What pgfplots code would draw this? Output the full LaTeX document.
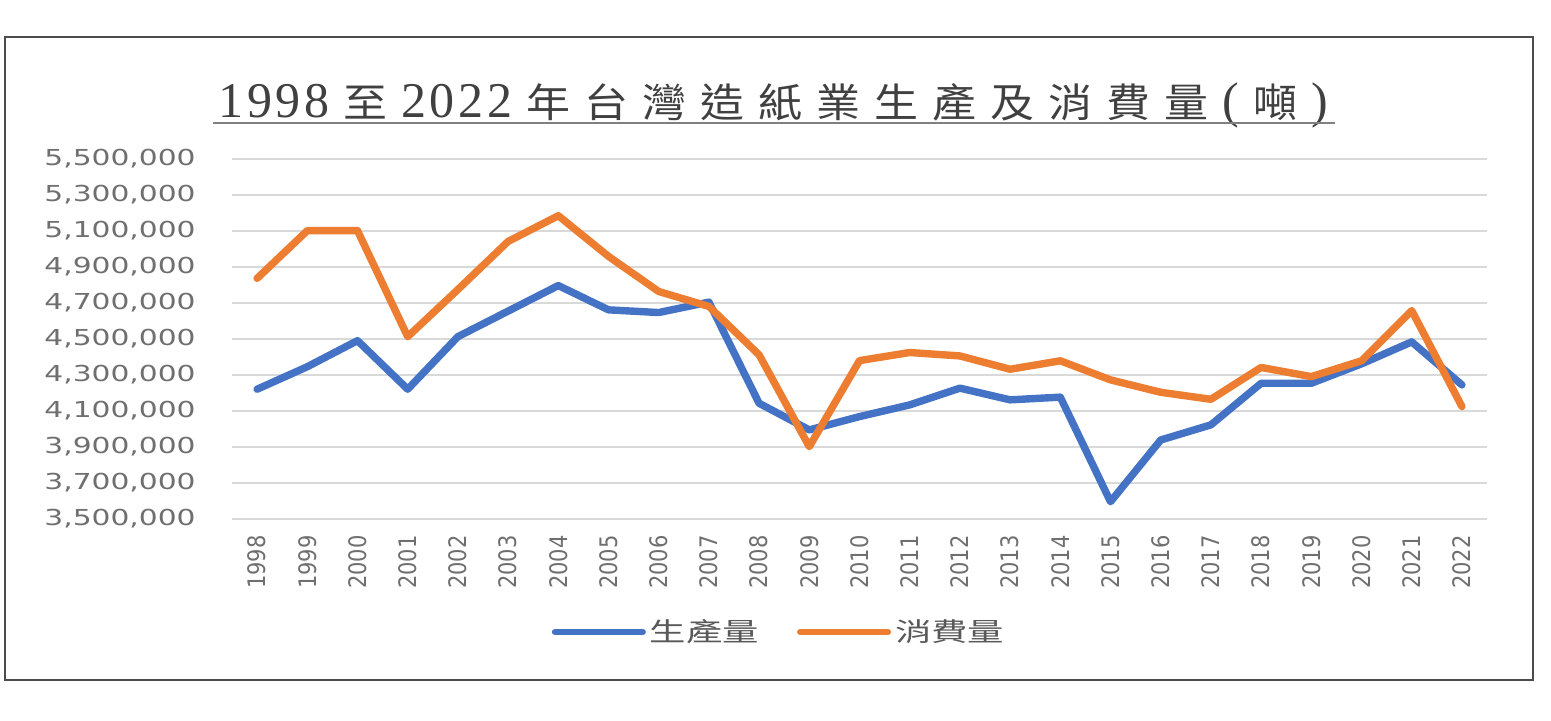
\documentclass[border=0pt]{standalone}
\usepackage{pgfplots}
\pgfplotsset{compat=1.18}
\usepackage{pgfplotstable}
\usepackage{graphicx}
\usepackage{fontspec}
\setmainfont{DejaVu Sans}
\newfontfamily\cjk{Noto Sans CJK TC}
\newfontfamily\tserif{Liberation Serif}
\definecolor{xblue}{HTML}{4472C4}
\definecolor{xorange}{HTML}{ED7D31}
\definecolor{xgrid}{HTML}{D9D9D9}
\definecolor{xlabel}{HTML}{6F6F6F}
\definecolor{xtitle}{HTML}{404040}

\pgfplotstableread{
year prod cons
1998 4221000 4837000
1999 4346000 5102000
2000 4491000 5102000
2001 4221000 4513000
2002 4513000 4775000
2003 4655000 5042000
2004 4797000 5185000
2005 4662000 4959000
2006 4647000 4764000
2007 4705000 4681000
2008 4143000 4412000
2009 3995000 3902000
2010 4069000 4380000
2011 4134000 4425000
2012 4227000 4406000
2013 4162000 4332000
2014 4177000 4379000
2015 3596000 4273000
2016 3939000 4204000
2017 4023000 4165000
2018 4254000 4342000
2019 4254000 4291000
2020 4362000 4379000
2021 4484000 4658000
2022 4245000 4125000
}\datatable

\newcommand{\cj}[1]{\scalebox{1.1}[1]{\cjk #1}}
\newcommand{\ts}[1]{{\tserif\fontsize{25pt}{28pt}\selectfont #1}}
\newcommand{\dg}{\hspace{1.8pt}}

\begin{document}
\begin{tikzpicture}
\path (0,0) rectangle (775.5pt,360pt);
\draw[color=black!70, line width=0.7pt] (2.5pt,20pt) rectangle (766.5pt,341.5pt);
% title
\node[anchor=base west, inner sep=0pt, text=xtitle] at (109pt,301.5pt) {%
\makebox[555pt][s]{\fontsize{20pt}{24pt}\selectfont
\ts{1}\dg\ts{9}\dg\ts{9}\dg\ts{8}\hfill\cj{至}\hfill\ts{2}\dg\ts{0}\dg\ts{2}\dg\ts{2}\hfill
\cj{年}\hfill\cj{台}\hfill\cj{灣}\hfill\cj{造}\hfill\cj{紙}\hfill\cj{業}\hfill\cj{生}\hfill\cj{產}\hfill\cj{及}\hfill\cj{消}\hfill\cj{費}\hfill\cj{量}\hfill
\ts{(}\hfill\cj{噸}\hfill\ts{)}}};
\draw[color=black!50, line width=1.2pt] (106.5pt,298.5pt) -- (667.5pt,298.5pt);

\begin{axis}[
  at={(116pt,100.5pt)}, anchor=south west,
  scale only axis, width=627.5pt, height=180pt,
  xmin=1997.5, xmax=2022.5,
  ymin=3500000, ymax=5500000,
  xtick={1998,1999,...,2022},
  ytick={3500000,3700000,...,5500000},
  scaled ticks=false,
  axis line style={draw=none},
  major tick length=0pt,
  tick style={draw=none},
  ymajorgrids, grid style={color=xgrid, line width=1pt},
  yticklabel={\scalebox{1.35}[1]{\pgfmathprintnumber[assume math mode=true,fixed,precision=0,1000 sep={,}]{\tick}}},
  yticklabel style={font=\fontsize{11pt}{13pt}\selectfont, text=xlabel, inner sep=0pt, anchor=east, xshift=-18pt},
  xticklabel={\scalebox{1}[1.15]{\pgfmathprintnumber[assume math mode=true,fixed,precision=0,1000 sep={}]{\tick}}},
  xticklabel style={font=\fontsize{10.5pt}{12pt}\selectfont, text=xlabel, inner sep=0pt, anchor=east, yshift=-8pt, rotate=90},
  legend columns=2,
  legend style={draw=none, fill=none, at={(0.4367,-0.3139)}, anchor=center,
    font=\fontsize{13pt}{15pt}\selectfont, text=black!65,
    /tikz/every even column/.append style={column sep=17pt}},
  legend image code/.code={\draw[#1, line width=3pt, line cap=round] (0pt,0pt) -- (44pt,0pt);},
  clip=false,
]
\addplot[color=xblue, line width=3.7pt, line join=round, line cap=round] table[x=year, y=prod] {\datatable};
\addlegendentry{\scalebox{1.4}[1]{\cjk 生產量}}
\addplot[color=xorange, line width=3.7pt, line join=round, line cap=round] table[x=year, y=cons] {\datatable};
\addlegendentry{\scalebox{1.4}[1]{\cjk 消費量}}
\end{axis}
\end{tikzpicture}
\end{document}
